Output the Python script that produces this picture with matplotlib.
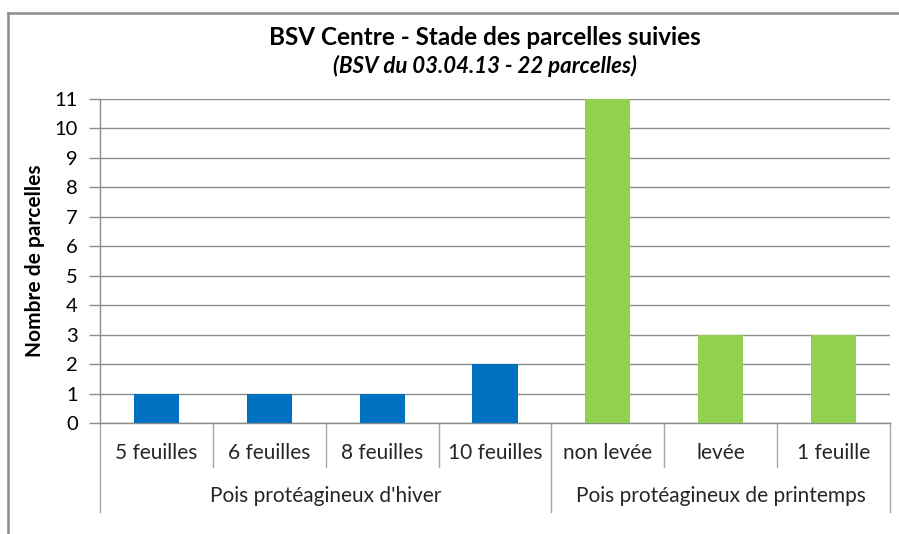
import matplotlib
matplotlib.use("Agg")
import matplotlib.pyplot as plt
from matplotlib.lines import Line2D
import matplotlib.transforms as mtransforms

plt.rcParams['font.family'] = ['Lato', 'DejaVu Sans']

# data
stades = ["5 feuilles", "6 feuilles", "8 feuilles", "10 feuilles",
          "non levée", "levée", "1 feuille"]
parcelles = [1, 1, 1, 2, 11, 3, 3]
groupes = ["Pois protéagineux d'hiver", "Pois protéagineux de printemps"]
taille_groupes = [4, 3]
couleurs_groupes = ["#0070C0", "#92D050"]

couleurs = []
for c, n in zip(couleurs_groupes, taille_groupes):
    couleurs += [c] * n

fig = plt.figure(figsize=(8.99, 5.34), dpi=100)
ax = fig.add_axes([100 / 899, 1 - 423 / 534, 790 / 899, 324 / 534])

x = list(range(len(stades)))
ax.bar(x, parcelles, width=0.4, color=couleurs, zorder=3)

ax.set_xlim(-0.5, len(stades) - 0.5)
ax.set_ylim(0, 11)
ax.set_yticks(range(0, 12))
ax.yaxis.grid(True, color="#8c8c8c", linewidth=1.0, zorder=0)
ax.set_xticks([])
ax.tick_params(axis="y", length=8, width=1, color="#8c8c8c", pad=8,
               labelsize=14.5, labelcolor="black")
for s in ["top", "right"]:
    ax.spines[s].set_visible(False)
for s in ["left", "bottom"]:
    ax.spines[s].set_color("#8c8c8c")
    ax.spines[s].set_linewidth(1.0)

ax.set_ylabel("Nombre de parcelles", fontsize=15, fontweight="bold")
ax.yaxis.set_label_coords(-0.069, 0.5)

# two level category axis
trans = mtransforms.blended_transform_factory(ax.transData, ax.transAxes)
bornes = [-0.5]
for n in taille_groupes:
    bornes.append(bornes[-1] + n)
for i in range(len(stades) + 1):
    xi = i - 0.5
    bas = -0.275 if xi in bornes else -0.136
    ax.plot([xi, xi], [0, bas], color="#a6a6a6", lw=1.0, transform=trans,
            clip_on=False)
for xi, lab in zip(x, stades):
    ax.text(xi, -0.093, lab, transform=trans, ha="center", va="center",
            fontsize=15, color="#262626")
for i, lab in enumerate(groupes):
    centre = (bornes[i] + bornes[i + 1]) / 2
    ax.text(centre, -0.226, lab, transform=trans, ha="center", va="center",
            fontsize=15, color="#262626")

fig.text(0.5395, 1 - 37 / 534, "BSV Centre - Stade des parcelles suivies",
         ha="center", va="center", fontsize=17.5, fontweight="bold")
fig.text(0.5395, 1 - 66 / 534, "(BSV du 03.04.13 - 22 parcelles)",
         ha="center", va="center", fontsize=16, fontweight="bold",
         fontstyle="italic")

# chart border (top and left)
fig.add_artist(Line2D([8 / 899, 1], [1 - 13 / 534, 1 - 13 / 534],
                      transform=fig.transFigure, color="#8c8c8c", lw=1.8))
fig.add_artist(Line2D([8 / 899, 8 / 899], [0, 1 - 13 / 534],
                      transform=fig.transFigure, color="#8c8c8c", lw=1.8))

fig.savefig("out.png", dpi=100)
